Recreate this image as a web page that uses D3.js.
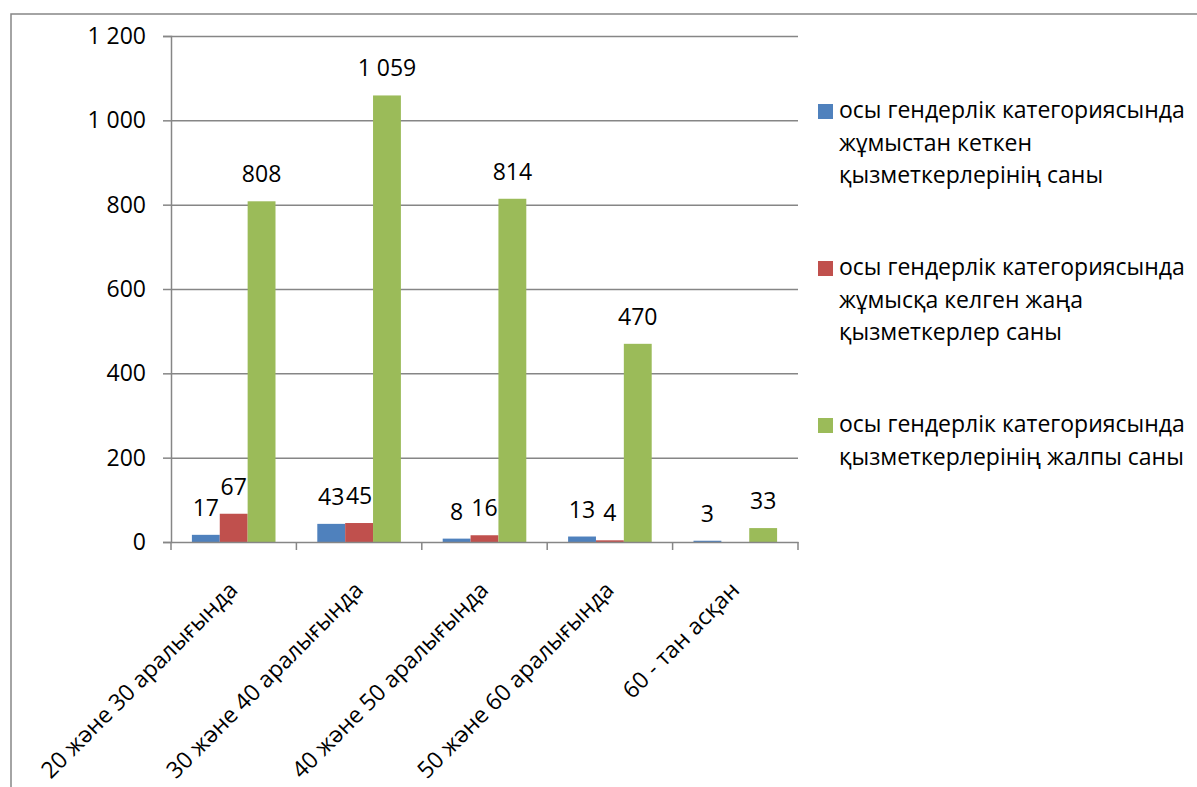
<!DOCTYPE html>
<html>
<head>
<meta charset="utf-8">
<script src="https://cdn.jsdelivr.net/npm/d3@7"></script>
<style>
  html, body { margin: 0; padding: 0; background: #fff; }
  svg { display: block; }
  text { font-family: "Open Sans", "Noto Sans", sans-serif; fill: #000; }
</style>
</head>
<body>
<svg id="chart" width="1197" height="787"></svg>
<script>
const categories = ["20 және 30 аралығында", "30 және 40 аралығында", "40 және 50 аралығында", "50 және 60 аралығында", "60 - тан асқан"];
const seriesNames = [
  ["осы гендерлік категориясында", "жұмыстан кеткен", "қызметкерлерінің саны"],
  ["осы гендерлік категориясында", "жұмысқа келген жаңа", "қызметкерлер саны"],
  ["осы гендерлік категориясында", "қызметкерлерінің жалпы саны"]
];
const seriesColors = ["#4F81BD", "#C0504D", "#9BBB59"];
const leftValues = [17, 43, 8, 13, 3];
const newValues = [67, 45, 16, 4, null];
const totalValues = [808, 1059, 814, 470, 33];
const yTicks = [0, 200, 400, 600, 800, 1000, 1200];

const series = [leftValues, newValues, totalValues];
const fmt = v => d3.format(",")(v).replace(/,/g, " ");

const svg = d3.select("#chart");
const W = 1197, H = 787;
const plot = {left: 171, right: 798, top: 36, bottom: 542};
const grey = "#868686";

// outer chart border
svg.append("rect").attr("x", 11).attr("y", 14).attr("width", W + 20).attr("height", H + 20)
  .attr("fill", "none").attr("stroke", grey).attr("stroke-width", 1.5);

const x = d3.scaleBand().domain(categories).range([plot.left, plot.right]).paddingInner(0).paddingOuter(0);
const x1 = d3.scaleBand().domain([0, 1, 2]).range([0, x.bandwidth()]).paddingInner(0).paddingOuter(0.75);
const y = d3.scaleLinear().domain([0, 1200]).range([plot.bottom, plot.top]);

// gridlines + y axis
const yAxis = d3.axisLeft(y).tickValues(yTicks).tickSize(8).tickFormat(fmt);
const gy = svg.append("g").attr("transform", `translate(${plot.left},0)`).call(yAxis);
gy.select(".domain").attr("stroke", grey).attr("stroke-width", 1.5);
gy.selectAll(".tick line").attr("stroke", grey).attr("stroke-width", 1.5);
gy.selectAll(".tick text").attr("font-size", 23).attr("x", -25).attr("dy", "0.33em")
  .style("font-family", '"Open Sans", sans-serif').attr("fill", "#000");
gy.selectAll(".tick").filter(d => d !== 0).append("line")
  .attr("x1", 0).attr("x2", plot.right - plot.left).attr("stroke", grey).attr("stroke-width", 1.5);

// bars
const groups = svg.append("g").selectAll("g").data(categories).join("g")
  .attr("transform", d => `translate(${x(d)},0)`);
series.forEach((vals, si) => {
  groups.append("rect")
    .attr("x", x1(si)).attr("width", x1.bandwidth())
    .attr("y", (d, i) => vals[i] == null ? y(0) : y(vals[i]))
    .attr("height", (d, i) => vals[i] == null ? 0 : y(0) - y(vals[i]))
    .attr("fill", seriesColors[si]);
  groups.filter((d, i) => vals[i] != null).append("text")
    .attr("x", x1(si) + x1.bandwidth() / 2)
    .attr("y", d => y(vals[categories.indexOf(d)]) - 19)
    .attr("text-anchor", "middle").attr("font-size", 23)
    .text(d => fmt(vals[categories.indexOf(d)]));
});

// x axis
const xAxis = d3.axisBottom(x).tickSize(0).tickFormat("");
const gx = svg.append("g").attr("transform", `translate(0,${plot.bottom})`).call(xAxis);
gx.select(".domain").attr("stroke", grey).attr("stroke-width", 1.5);
const tickPos = categories.map(c => x(c)).concat([plot.right]);
svg.append("g").selectAll("line").data(tickPos).join("line")
  .attr("x1", d => d).attr("x2", d => d).attr("y1", plot.bottom).attr("y2", plot.bottom + 8)
  .attr("stroke", grey).attr("stroke-width", 1.5);
svg.append("g").selectAll("text").data(categories).join("text")
  .attr("transform", d => `translate(${x(d) + x.bandwidth() / 2 - 6},${plot.bottom + 38}) rotate(-45)`)
  .attr("text-anchor", "end").attr("dy", "0.7em").attr("font-size", 23)
  .text(d => d);

// legend
const legendY = [118, 275, 432];
const lg = svg.append("g");
seriesNames.forEach((lines, si) => {
  lg.append("rect").attr("x", 818).attr("y", legendY[si] - 14).attr("width", 15).attr("height", 15)
    .attr("fill", seriesColors[si]);
  lines.forEach((ln, li) => {
    lg.append("text").attr("x", 839).attr("y", legendY[si] + li * 32.5)
      .attr("font-size", 23).text(ln);
  });
});
</script>
</body>
</html>
